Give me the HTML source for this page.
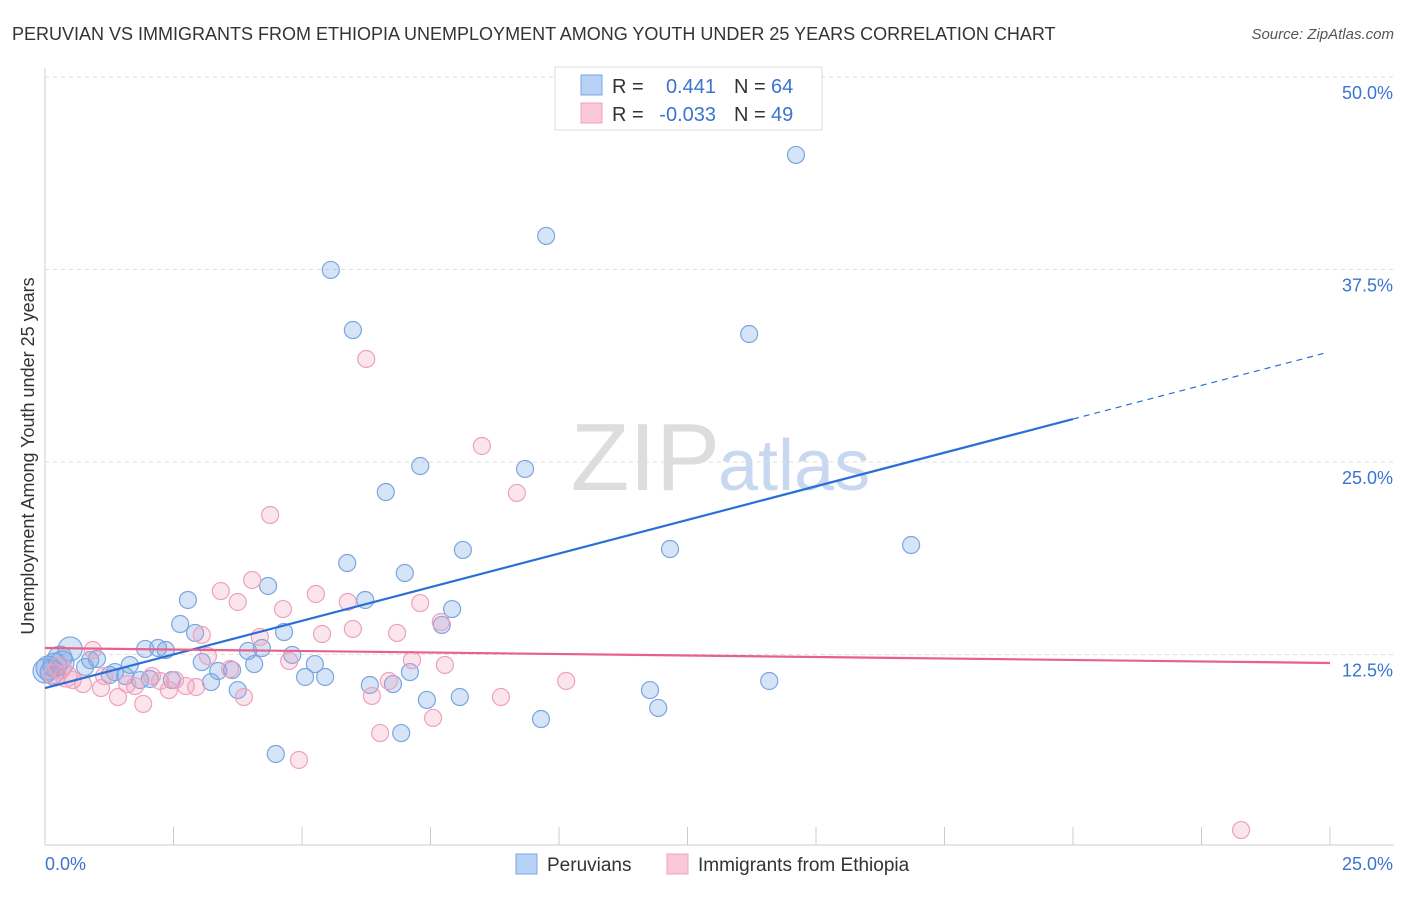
<!DOCTYPE html>
<html><head><meta charset="utf-8"><style>
body{margin:0;background:#fff;font-family:"Liberation Sans",sans-serif;}
svg text{font-family:"Liberation Sans",sans-serif;}
</style></head><body>
<svg id="chart" width="1406" height="892">
<text x="12" y="40" font-size="18" fill="#333">PERUVIAN VS IMMIGRANTS FROM ETHIOPIA UNEMPLOYMENT AMONG YOUTH UNDER 25 YEARS CORRELATION CHART</text>
<text x="1394" y="39" font-size="15" fill="#555" text-anchor="end" font-style="italic">Source: ZipAtlas.com</text>
<text x="720" y="490" font-size="96" fill="#ddd" text-anchor="end" font-family="Liberation Serif">ZIP</text>
<text x="718" y="490" font-size="72" fill="#c8d8f0">atlas</text>
<g id="grid"></g><g id="axes"></g><g id="pts"></g><g id="trend"></g>
<text transform="translate(34,456) rotate(-90)" font-size="18" fill="#333" text-anchor="middle">Unemployment Among Youth under 25 years</text>
<g>
<rect x="555" y="67" width="267" height="63" fill="#fff" stroke="#ddd"/>
<rect x="581" y="75" width="21" height="20" fill="#b8d2f5" stroke="#7aa6e0"/>
<rect x="581" y="103" width="21" height="20" fill="#fbc8d8" stroke="#f0a0bc"/>
<text x="612" y="93" font-size="20" fill="#333">R = </text><text x="716" y="93" font-size="20" fill="#3a74d0" text-anchor="end">0.441</text>
<text x="734" y="93" font-size="20" fill="#333">N = </text><text x="771" y="93" font-size="20" fill="#3a74d0">64</text>
<text x="612" y="121" font-size="20" fill="#333">R = </text><text x="716" y="121" font-size="20" fill="#3a74d0" text-anchor="end">-0.033</text>
<text x="734" y="121" font-size="20" fill="#333">N = </text><text x="771" y="121" font-size="20" fill="#3a74d0">49</text>
</g>
<g>
<rect x="516" y="854" width="21" height="20" fill="#b8d2f5" stroke="#7aa6e0"/>
<text x="547" y="871" font-size="19" fill="#333">Peruvians</text>
<rect x="667" y="854" width="21" height="20" fill="#fbc8d8" stroke="#f0a0bc"/>
<text x="698" y="871" font-size="19" fill="#333">Immigrants from Ethiopia</text>
</g>
</svg>
<script>
const blueX=[14.61,9.75,5.56,5.99,13.70,7.30,9.34,6.63,8.13,12.16,16.85,5.88,7.00,4.34,2.78,6.23,7.92,2.63,7.72,2.92,4.65,0.49,1.95,2.20,2.35,4.22,3.95,4.81,0.29,1.01,1.65,3.05,4.07,5.25,0.19,0.78,1.26,1.56,2.04,2.47,3.37,3.64,5.06,5.45,7.10,6.77,6.32,3.23,3.75,11.77,14.09,7.43,8.07,11.93,9.65,6.93,4.49,0.06,0.14,0.33,0,1.36,0.88,1.85];
const blueY=[44.94,39.68,37.47,33.57,33.31,24.74,24.55,23.05,19.29,19.35,19.61,18.44,17.79,16.95,16.04,16.04,15.45,14.48,14.42,13.90,13.96,12.86,12.86,12.92,12.79,12.92,12.73,12.47,12.27,12.21,11.82,12.01,11.88,11.88,11.82,11.69,11.17,11.10,10.91,10.84,11.43,11.49,11.04,11.04,11.36,10.58,10.52,10.71,10.19,10.19,10.78,9.55,9.74,9.03,8.31,7.40,6.04,11.62,11.36,11.95,11.43,11.36,12.14,10.84];
const pinkX=[6.25,8.50,9.18,4.38,4.03,3.42,3.75,5.27,5.89,7.30,4.63,7.70,5.99,5.39,6.85,4.18,3.05,0.93,4.75,7.14,7.78,3.60,1.15,2.08,2.24,2.53,2.74,2.94,2.41,1.60,1.75,1.09,0.74,0.54,6.69,10.14,6.36,8.87,3.87,1.42,1.91,7.55,6.52,4.94,23.27,0.29,0.19,3.17,0.41];
const pinkY=[31.69,26.04,22.99,21.56,17.34,16.62,15.91,16.43,15.91,15.84,15.45,14.61,14.16,13.83,13.90,13.64,13.77,12.79,12.08,12.14,11.82,11.56,11.10,11.10,10.78,10.84,10.45,10.39,10.19,10.58,10.45,10.32,10.58,10.84,10.78,10.78,9.81,9.74,9.74,9.74,9.29,8.38,7.40,5.65,1.10,11.62,11.17,12.40,11.10];
const yTicks=[12.5,25.0,37.5,50.0];
const xTickLabels=["0.0%","25.0%"];
const blueTrend=[10.32,27.79];
const pinkTrend=[12.92,11.95];
const NS="http://www.w3.org/2000/svg";
const X=v=>45+v*51.4, Y=v=>847-v*15.4;
function mk(p,t,a){const e=document.createElementNS(NS,t);for(const k in a)e.setAttribute(k,a[k]);p.appendChild(e);return e;}
const g=document.getElementById('grid'),ax=document.getElementById('axes'),pt=document.getElementById('pts'),tr=document.getElementById('trend');
yTicks.forEach(v=>{const l=mk(g,'line',{x1:45,x2:1394,y1:Y(v),y2:Y(v),stroke:'#ddd','stroke-dasharray':'4,4'});

const t=mk(g,'text',{x:1393,y:Y(v)+22,'font-size':18,fill:'#3a74d0','text-anchor':'end'});t.textContent=v.toFixed(1)+'%';
});
const a1=mk(ax,'line',{x1:45,x2:45,y1:68,y2:845,stroke:'#ccc'});
const a2=mk(ax,'line',{x1:45,x2:1394,y1:845,y2:845,stroke:'#ccc'});
for(let i=0;i<=10;i++){const l=mk(ax,'line',{x1:X(i*2.5),x2:X(i*2.5),y1:827,y2:845,stroke:'#ccc'});}
const xl0=mk(ax,'text',{x:45,y:870,'font-size':18,fill:'#3a74d0'});xl0.textContent=xTickLabels[0];
const xl1=mk(ax,'text',{x:1393,y:870,'font-size':18,fill:'#3a74d0','text-anchor':'end'});xl1.textContent=xTickLabels[1];
blueX.forEach((v,i)=>{const c=mk(pt,'circle',{cx:X(v),cy:Y(blueY[i]),r:v<0.5?12:8.5,fill:'rgba(120,165,230,0.3)',stroke:'#7aa6e0','stroke-width':1.2});
});
pinkX.forEach((v,i)=>{const c=mk(pt,'circle',{cx:X(v),cy:Y(pinkY[i]),r:v<0.5?11:8.5,fill:'rgba(240,150,180,0.25)',stroke:'#f0a0bc','stroke-width':1.2});
});
const slope=(blueTrend[1]-blueTrend[0])/20;
const b1=mk(tr,'line',{x1:X(0),y1:Y(blueTrend[0]),x2:X(20),y2:Y(blueTrend[1]),stroke:'#2a6fd6','stroke-width':2.2});

const b2=mk(tr,'line',{x1:X(20),y1:Y(blueTrend[1]),x2:X(24.9),y2:Y(blueTrend[0]+slope*24.9),stroke:'#2a6fd6','stroke-width':1.2,'stroke-dasharray':'6,5'});

const p1=mk(tr,'line',{x1:X(0),y1:Y(pinkTrend[0]),x2:X(25),y2:Y(pinkTrend[1]),stroke:'#e8608c','stroke-width':2.2});

</script>
</body></html>
